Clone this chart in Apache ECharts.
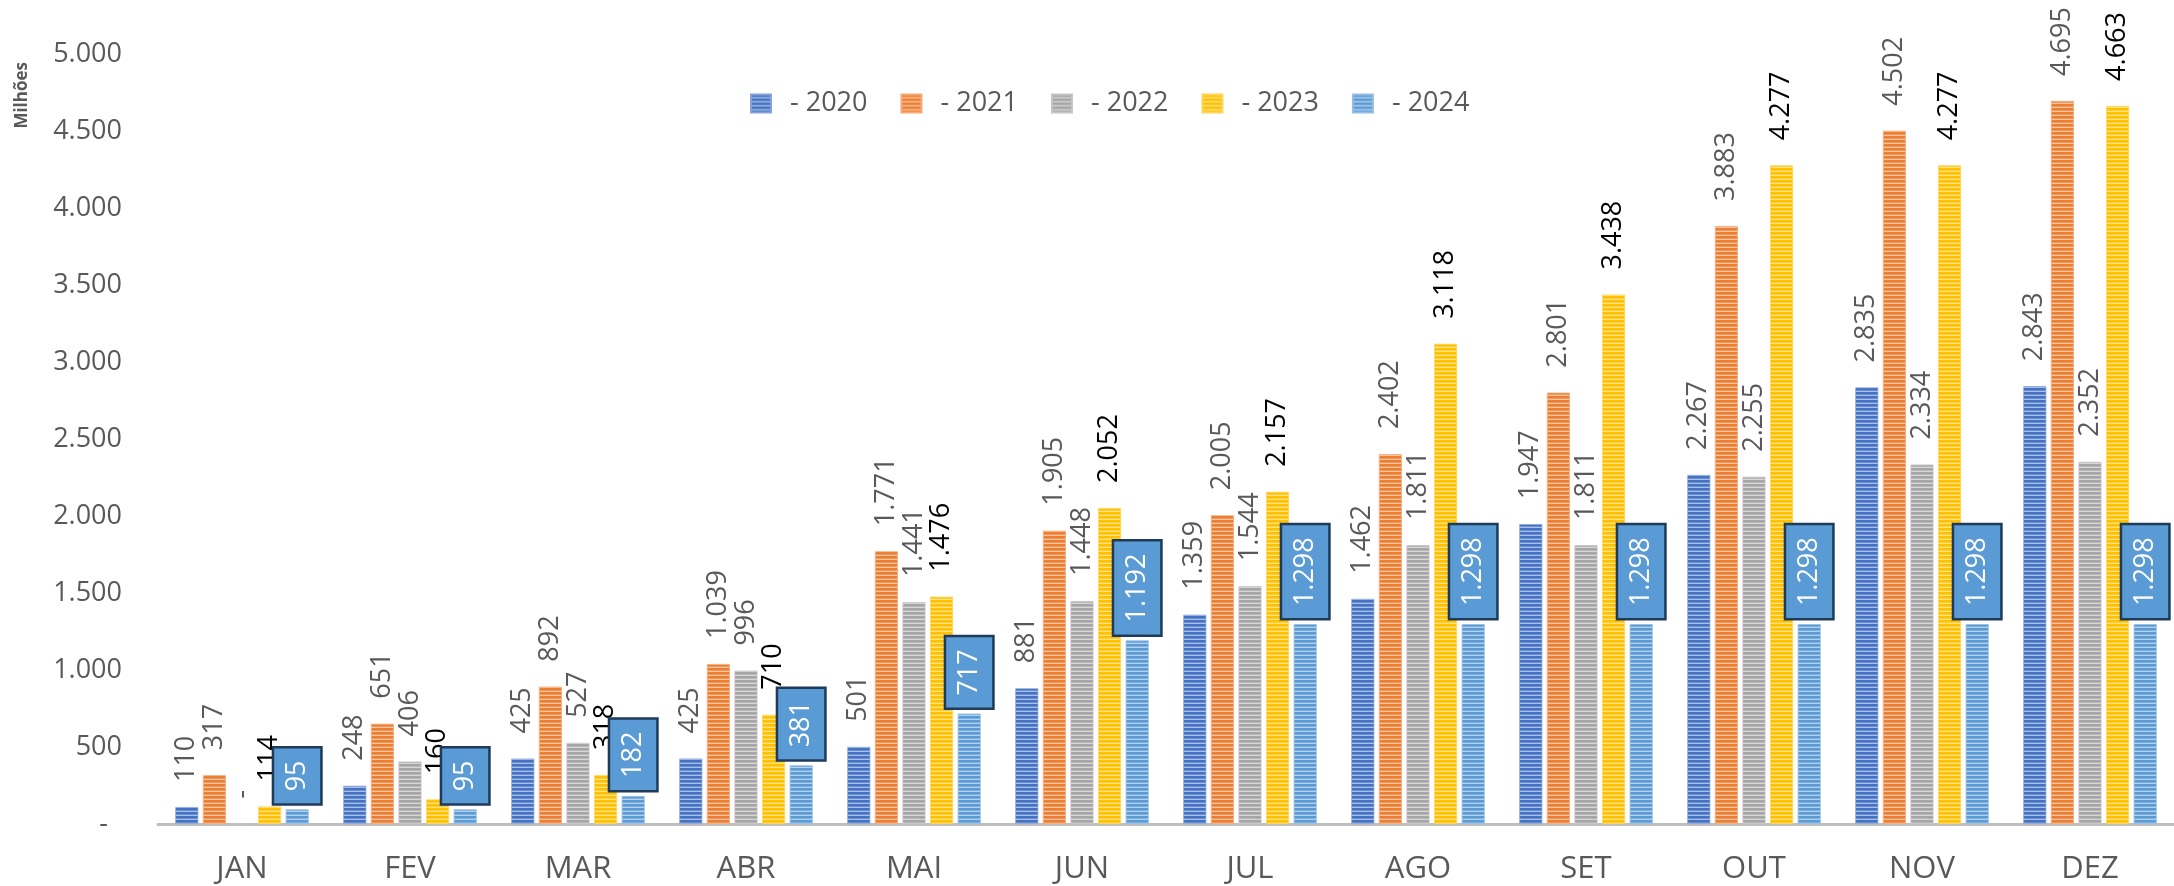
<!DOCTYPE html>
<html>
<head>
<meta charset="utf-8">
<script src="https://cdn.jsdelivr.net/npm/echarts@6/dist/echarts.min.js"></script>
<style>
html,body{margin:0;padding:0;background:#fff;}
#c{width:2174px;height:886px;}
</style>
</head>
<body>
<div id="c"></div>
<script>
const categories = ['JAN','FEV','MAR','ABR','MAI','JUN','JUL','AGO','SET','OUT','NOV','DEZ'];
const yearNames = ['- 2020','- 2021','- 2022','- 2023','- 2024'];
const v2020 = [110, 248, 425, 425, 501, 881, 1359, 1462, 1947, 2267, 2835, 2843];
const v2021 = [317, 651, 892, 1039, 1771, 1905, 2005, 2402, 2801, 3883, 4502, 4695];
const v2022 = [0, 406, 527, 996, 1441, 1448, 1544, 1811, 1811, 2255, 2334, 2352];
const v2023 = [114, 160, 318, 710, 1476, 2052, 2157, 3118, 3438, 4277, 4277, 4663];
const v2024 = [95, 95, 182, 381, 717, 1192, 1298, 1298, 1298, 1298, 1298, 1298];
const seriesValues = [v2020, v2021, v2022, v2023, v2024];
const colors = ['#4472C4','#ED7D31','#A5A5A5','#FFC000','#5B9BD5'];

const FONT = '"Open Sans", "Noto Sans", sans-serif';

function fmt(v){
  if (v === 0) return '-';
  return String(v).replace(/\B(?=(\d{3})+(?!\d))/g, '.');
}
function blend(hex, t){
  const r = parseInt(hex.slice(1,3),16), g = parseInt(hex.slice(3,5),16), b = parseInt(hex.slice(5,7),16);
  const m = c => Math.round(c + (255 - c) * t);
  return 'rgb(' + m(r) + ',' + m(g) + ',' + m(b) + ')';
}
function stripe(hex){
  const cv = document.createElement('canvas');
  cv.width = 4; cv.height = 4;
  const ctx = cv.getContext('2d');
  ctx.fillStyle = hex; ctx.fillRect(0,0,4,2);
  ctx.fillStyle = blend(hex, 0.2); ctx.fillRect(0,2,4,1);
  ctx.fillStyle = blend(hex, 0.55); ctx.fillRect(0,3,4,1);
  return {image: cv, repeat: 'repeat'};
}

const series = seriesValues.map((vals, i) => {
  const isBox = i === 4;
  const label = isBox ? {
    show: true, position: 'top', distance: 6, rotate: 90,
    align: 'left', verticalAlign: 'middle',
    fontFamily: FONT, fontSize: 27, color: '#ffffff',
    backgroundColor: '#5B9BD5', borderColor: '#1F3B5A', borderWidth: 2.5,
    padding: [8, 12, 8, 12], lineHeight: 30,
    formatter: p => fmt(p.value)
  } : {
    show: true, position: 'top', distance: 25, rotate: 90,
    align: 'left', verticalAlign: 'middle',
    fontFamily: FONT, fontSize: 27, color: i === 3 ? '#000000' : '#595959',
    formatter: p => fmt(p.value)
  };
  return {
    name: yearNames[i],
    type: 'bar',
    data: vals,
    barWidth: 23,
    barGap: '20%',
    itemStyle: {color: stripe(colors[i]), borderColor: blend(colors[i], 0.35), borderWidth: 0.8},
    label: label,
    z: 2 + i
  };
});

const chart = echarts.init(document.getElementById('c'), null, {renderer: 'canvas'});
chart.setOption({
  animation: false,
  backgroundColor: '#ffffff',
  grid: {left: 158, right: -18, top: 54, bottom: 62, containLabel: false},
  legend: {
    data: yearNames,
    left: 745, top: 85,
    itemWidth: 20, itemHeight: 18, itemGap: 33,
    icon: 'rect',
    formatter: name => '  ' + name,
    textStyle: {fontFamily: FONT, fontSize: 27, color: '#595959'}
  },
  graphic: [{
    type: 'text', left: 14, top: 62, rotation: Math.PI/2,
    style: {text: 'Milhões', font: 'bold 17px ' + FONT, fill: '#595959'}
  }],
  xAxis: {
    type: 'category', data: categories,
    axisLine: {show: true, lineStyle: {color: '#BFBFBF', width: 3}},
    axisTick: {show: false},
    axisLabel: {fontFamily: FONT, fontSize: 31, color: '#595959', margin: 30}
  },
  yAxis: {
    type: 'value', min: 0, max: 5000, interval: 500,
    axisLine: {show: false}, axisTick: {show: false},
    splitLine: {show: false},
    axisLabel: {fontFamily: FONT, fontSize: 27, color: '#595959', margin: 36,
      formatter: v => v === 0 ? '-  ' : fmt(v)}
  },
  series: series
});
</script>
</body>
</html>
